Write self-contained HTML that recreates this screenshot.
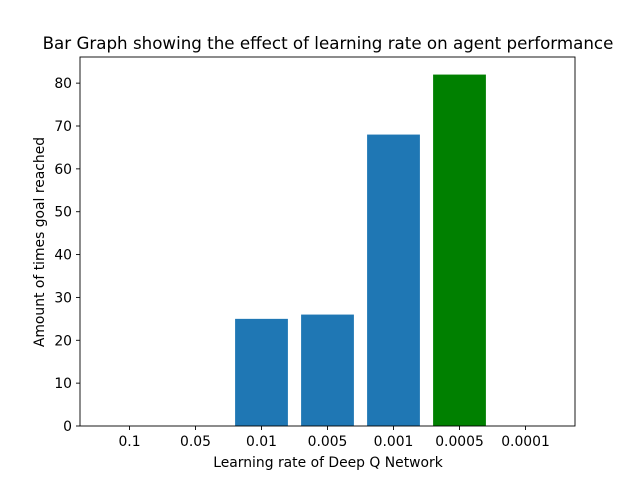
<!DOCTYPE html>
<html><head><meta charset="utf-8"><style>
body{margin:0;background:#fff;}
svg text{font-family:"DejaVu Sans","Liberation Sans",sans-serif;fill:#000;}
</style></head><body>
<svg width="639" height="479" viewBox="0 0 639 479">
<rect width="639" height="479" fill="#fff"/>
<text x="328" y="49" font-size="16.7" text-anchor="middle">Bar Graph showing the effect of learning rate on agent performance</text>
<g id="bars"></g>
<g id="axes"></g>
<text x="328" y="467" font-size="13.9" text-anchor="middle">Learning rate of Deep Q Network</text>
<text transform="translate(44,242) rotate(-90)" font-size="13.9" text-anchor="middle">Amount of times goal reached</text>
</svg>
<script>
const categories = ["0.1","0.05","0.01","0.005","0.001","0.0005","0.0001"];
const values = [0,0,25,26,68,82,0];
const colors = ["#1f77b4","#1f77b4","#1f77b4","#1f77b4","#1f77b4","#008000","#1f77b4"];
const yTicks = [0,10,20,30,40,50,60,70,80];

const L=80,R=575,T=57,B=426;
const ymax=86.1;
const xs=i=>L+(i+0.75)*(R-L)/7.5;
const ys=v=>B-v*(B-T)/ymax;
const bw=0.8*(R-L)/7.5;
const NS="http://www.w3.org/2000/svg";
const bars=document.getElementById('bars');
const axes=document.getElementById('axes');
function mk(tag,attrs,parent){const e=document.createElementNS(NS,tag);for(const k in attrs)e.setAttribute(k,attrs[k]);parent.appendChild(e);return e;}

values.forEach((v,i)=>{
  const r=mk('rect',{x:xs(i)-bw/2,y:ys(v),width:bw,height:B-ys(v),fill:colors[i]},bars);
  
  
});
const frame=mk('rect',{x:L,y:T,width:R-L,height:B-T,fill:'none',stroke:'#000','stroke-width':0.9},axes);


categories.forEach((c,i)=>{
  mk('line',{x1:xs(i),x2:xs(i),y1:B,y2:B+4,stroke:'#000','stroke-width':0.9},axes);
  const t=mk('text',{x:xs(i),y:B+20,'font-size':13.9,'text-anchor':'middle'},axes);
  t.textContent=c;
  
  
});
yTicks.forEach(v=>{
  mk('line',{x1:L-4,x2:L,y1:ys(v),y2:ys(v),stroke:'#000','stroke-width':0.9},axes);
  const t=mk('text',{x:L-8,y:ys(v)+5,'font-size':13.9,'text-anchor':'end'},axes);
  t.textContent=v;
  
  
});
</script>
</body></html>
